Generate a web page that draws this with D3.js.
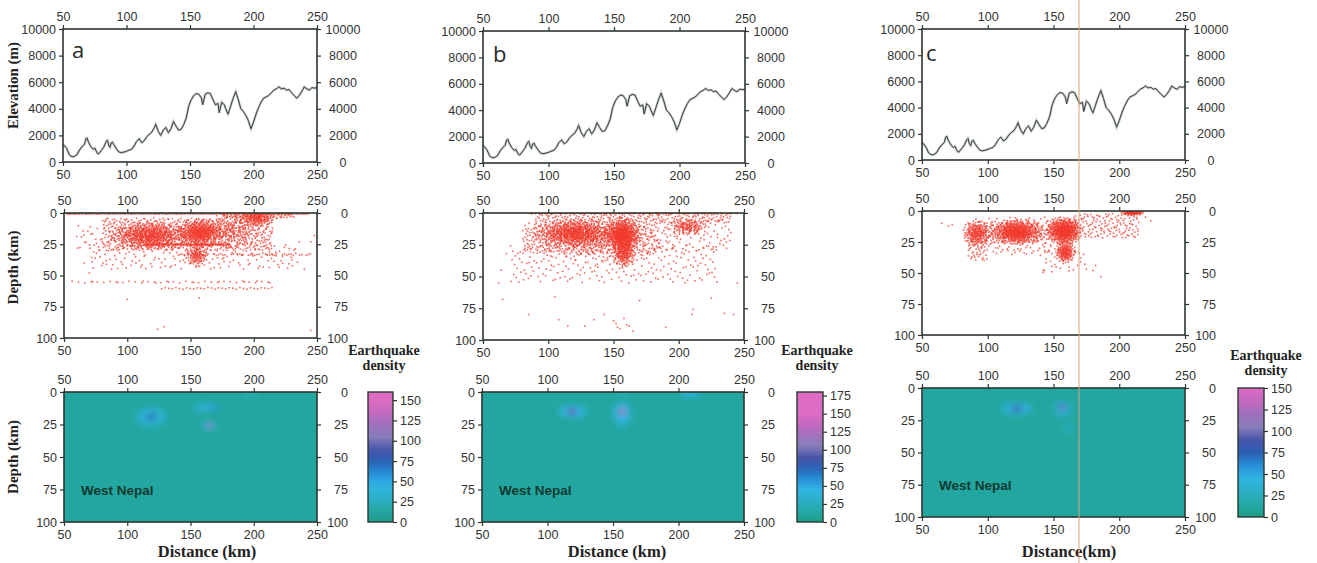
<!DOCTYPE html>
<html><head><meta charset="utf-8">
<script src="https://cdn.jsdelivr.net/npm/d3@7"></script>
<style>body{margin:0;background:#fff}svg{display:block}</style>
</head><body><svg id="chart" width="1317" height="563"></svg>
<script>
// ---------------- DATA ----------------
const panelLetters = ["a", "b", "c"];
const distTicks = [50, 100, 150, 200, 250];
const elevTicks = [0, 2000, 4000, 6000, 8000, 10000];
const depthTicks = [0, 25, 50, 75, 100];
const densityMax = [160, 180, 150];
const densityTicks = [
  [0, 25, 50, 75, 100, 125, 150],
  [0, 25, 50, 75, 100, 125, 150, 175],
  [0, 25, 50, 75, 100, 125, 150]
];
const distLabels = ["Distance (km)", "Distance (km)", "Distance(km)"];

// Topographic profile (km, m) — same profile in all three panels
const elevDist = [50,51,53,55,57,59,61,63,65,67,68,69,70,72,74,75,77,78,80,82,84,85,86,87,88,89,90,92,94,96,98,100,102,104,106,108,110,112,114,116,118,120,122,123,125,127,129,131,133,135,137,139,141,143,145,147,149,151,153,155,157,159,160,162,164,166,168,170,172,173,175,177,179,180,182,184,186,188,190,192,194,196,198,200,202,204,206,208,210,212,214,216,218,220,222,224,226,228,230,232,234,236,238,240,242,244,246,248,250];
const elevVal = [1350,1250,1000,550,400,420,550,900,1150,1350,1750,1800,1500,1150,950,1050,650,600,850,1100,1550,1650,1250,1100,1450,1500,1300,1000,750,700,750,800,900,950,1200,1550,1750,1450,1600,1900,2100,2250,2600,2850,2300,2000,2400,2600,2200,2500,3050,2700,2400,2450,2800,3300,4200,4700,5000,5150,5100,4800,4300,5100,5200,5150,4700,4300,4400,3700,4500,4300,3800,3600,4200,4800,5300,4700,4000,3800,3500,3100,2500,3000,3600,4100,4500,4800,4900,5000,5200,5400,5500,5650,5500,5550,5400,5450,5200,5000,4800,5000,5300,5650,5500,5400,5600,5550,5600];

// Earthquake hypocentres.
// Bands of evenly spread events: [distance from, distance to, depth from, depth to, number of events]
const quakeBandsA = [
  [52,245,0,0.8,320],[175,232,0,4,80],[113,181,24.5,26,120],[140,248,32.5,34,45],
  [55,215,54.5,56,42],[125,215,59.5,61,32],[60,80,10,30,20],[70,235,25,45,180],[80,215,4,30,650]
];
const quakeBandsB = [
  [85,245,0,0.6,160],[90,240,1,8,200],[70,230,25,55,230],[185,240,5,30,80],[80,185,8,32,380]
];
const quakeBandsC = [
  [165,215,2,22,150],[100,150,5,35,130],[140,175,30,50,35],[85,100,25,40,40],[84,168,8,26,150]
];
// Clusters: [centre distance, centre depth, spread km, spread depth km, number of events]
const quakeClustersA = [[118,18,14,5,600],[157,16,8,5,420],[202,4,7,3,160],[155,34,4,4,110],[180,14,12,6,200]];
const quakeClustersB = [[120,16,14,5,650],[157,17,6,6,550],[158,32,4,5,180],[207,11,7,3,130],[140,22,25,8,300]];
const quakeClustersC = [[92,18,5,5,220],[122,17,9,4.5,580],[158,16,6,5,540],[159,33,3.5,4,170],[210,1,4,1.2,120]];
// isolated events: [distance, depth]
const quakeSingleA = [[100,69],[124,93],[129,91],[245,94],[157,68],[240,45],[66,40],[70,48],[245,23],[248,18],[236,23]];
const quakeSingleB = [[65,68],[62,55],[85,80],[105,66],[108,84],[115,89],[128,89],[135,84],[143,80],[150,85],[152,87],[153,90],[155,91],[158,83],[160,88],[162,89],[165,93],[170,69],[190,90],[210,80],[211,76],[235,79],[225,67],[245,55],[242,80],[68,32],[64,45]];
const quakeSingleC = [[65,10],[70,12],[73,11],[180,48],[186,53],[143,48],[224,8],[220,5],[182,44]];

// Density hot spots: [distance, depth, density, half-width km, half-depth km]
const densityBlobsA = [[119,19,36,12,7],[119,19,75,3.5,2.5],[162,12,38,10,3],[167,12,55,4,2],[165,26,38,6,3],[165,26,120,3,1.5],[198,1,28,6,2]];
const densityBlobsB = [[119,15,42,11,5],[119,15,95,4,2.5],[157,17,42,7,9],[157,15,105,3,3],[157,1,28,5,2],[209,1,115,4,2],[209,1,42,8,3]];
const densityBlobsC = [[122,16,40,12,4.5],[122,16,85,5,2],[157,16,42,6,5.5],[157,15,95,3,2.5],[161,31,28,3,4]];
const densityBackground = 12;

// ---------------- LAYOUT ----------------
const layout = [
  {elev:[63,317,29,162], depth:[64,317,213,338], dens:[64,317,392,522], cb:[368,393,392,522], cbTitle:[384,355], dist:[207,557], letter:[72,58]},
  {elev:[483,745,31,163], depth:[483,744,213,340], dens:[482,744,392,522], cb:[797,823,392,522], cbTitle:[817,355], dist:[617,557], letter:[493,62]},
  {elev:[922,1185,29,160], depth:[922,1185,211,335], dens:[922,1185,388,517], cb:[1238,1264,388,517], cbTitle:[1266,360], dist:[1069,557], letter:[926,61]}
];
const bands = [quakeBandsA, quakeBandsB, quakeBandsC];
const clusters = [quakeClustersA, quakeClustersB, quakeClustersC];
const singles = [quakeSingleA, quakeSingleB, quakeSingleC];
const blobs = [densityBlobsA, densityBlobsB, densityBlobsC];

const svg = d3.select("#chart");
const defs = svg.append("defs");
const FRAME = "#2c382e", TXT = "#333", TICKFONT = "Liberation Sans, Arial, sans-serif", SERIF = "Liberation Serif, Times New Roman, serif";
const colorStops = ["#1d9c88","#25a8a6","#2ab0c8","#30b4e4","#2790d8","#2a5fb4","#4a55a8","#8a80bc","#a070bc","#c468c0","#de6cc4"];

defs.append("filter").attr("id","blur").attr("x","-50%").attr("y","-50%").attr("width","200%").attr("height","200%")
  .append("feGaussianBlur").attr("stdDeviation", 3);

// deterministic low-discrepancy sequence used to spread the counted events inside each area
function halton(i, b){ let f=1, r=0; while(i>0){ f/=b; r+=f*(i%b); i=Math.floor(i/b);} return r; }

function styleAxis(g){
  g.select(".domain").remove();
  g.selectAll(".tick line").attr("stroke", FRAME).attr("stroke-width", 1.2);
  g.selectAll(".tick text").attr("fill", TXT).attr("font-family", TICKFONT).attr("font-size", 12.5);
}

function frameAxes(x, y, box, yTicks, yFmt, rightMode){
  const [x0,x1,y0,y1] = box;
  const g = svg.append("g");
  g.append("g").attr("transform",`translate(0,${y0})`).call(d3.axisTop(x).tickValues(distTicks).tickSize(4).tickPadding(4).tickSizeOuter(0)).call(styleAxis);
  g.append("g").attr("transform",`translate(0,${y1})`).call(d3.axisBottom(x).tickValues(distTicks).tickSize(4).tickPadding(4).tickSizeOuter(0)).call(styleAxis);
  g.append("g").attr("transform",`translate(${x0},0)`).call(d3.axisLeft(y).tickValues(yTicks).tickFormat(yFmt).tickSize(4).tickPadding(3).tickSizeOuter(0)).call(styleAxis);
  const r = g.append("g").attr("transform",`translate(${x1},0)`).call(d3.axisRight(y).tickValues(yTicks).tickFormat(yFmt).tickSize(4).tickSizeOuter(0)).call(styleAxis);
  if(rightMode === "mid") r.selectAll(".tick text").attr("x", 26).attr("text-anchor","middle");
  else r.selectAll(".tick text").attr("x", 31).attr("text-anchor","end");
  g.append("rect").attr("x",x0).attr("y",y0).attr("width",x1-x0).attr("height",y1-y0)
    .attr("fill","none").attr("stroke",FRAME).attr("stroke-width",1.6);
}

let hIdx = 1;

layout.forEach((L, p) => {
  // ---- Elevation ----
  {
    const [x0,x1,y0,y1] = L.elev;
    const x = d3.scaleLinear().domain([50,250]).range([x0,x1]);
    const y = d3.scaleLinear().domain([0,10000]).range([y1,y0]);
    const line = d3.line().x((d,i)=>x(elevDist[i])).y(d=>y(d));
    svg.append("path").datum(elevVal).attr("d", line).attr("fill","none").attr("stroke","#a3b0a3").attr("stroke-width",2.4).attr("opacity",0.7);
    svg.append("path").datum(elevVal).attr("d", line).attr("fill","none").attr("stroke","#404040").attr("stroke-width",1);
    frameAxes(x, y, L.elev, elevTicks, d3.format("d"), "mid");
    if(p===0){
      svg.append("text").attr("transform",`translate(18,${(y0+y1)/2 - 10}) rotate(-90)`).attr("text-anchor","middle")
        .attr("font-family",SERIF).attr("font-weight","bold").attr("font-size",15).attr("fill","#222").text("Elevation (m)");
    }
    svg.append("text").attr("x",L.letter[0]).attr("y",L.letter[1]).attr("font-family","Open Sans, sans-serif")
      .attr("font-size",22).attr("fill","#2a2a2a").text(panelLetters[p]);
  }
  // ---- Depth scatter ----
  {
    const [x0,x1,y0,y1] = L.depth;
    const x = d3.scaleLinear().domain([50,250]).range([x0,x1]);
    const y = d3.scaleLinear().domain([0,100]).range([y0,y1]);
    const cid = "clipD"+p;
    defs.append("clipPath").attr("id",cid).append("rect").attr("x",x0).attr("y",y0).attr("width",x1-x0).attr("height",y1-y0);
    const pts = [];
    bands[p].forEach(c => {
      const [d0,d1,z0,z1,n] = c;
      for(let k=0;k<n;k++){ const h=hIdx++; pts.push([d0+(d1-d0)*halton(h,2), z0+(z1-z0)*halton(h,3)]); }
    });
    clusters[p].forEach(c => {
      const [cx,cz,sx,sz,n] = c;
      for(let k=0;k<n;k++){
        const h=hIdx++;
        const u = 0.06 + 0.94*halton(h,2), v = halton(h,3);
        const rr = Math.sqrt(-2*Math.log(u));
        pts.push([cx + sx*rr*Math.cos(2*Math.PI*v), cz + sz*rr*Math.sin(2*Math.PI*v)]);
      }
    });
    singles[p].forEach(s => pts.push(s));
    svg.append("g").attr("clip-path",`url(#${cid})`).selectAll("rect").data(pts.filter(d=>d[1]>=0)).join("rect")
      .attr("x", d=>x(d[0])-0.8).attr("y", d=>y(d[1])-0.8).attr("width",1.6).attr("height",1.6)
      .attr("fill","#f03a2c").attr("opacity",0.75);
    frameAxes(x, y, L.depth, depthTicks, d3.format("d"), "end");
    if(p===0){
      svg.append("text").attr("transform",`translate(18,${(y0+y1)/2 - 8}) rotate(-90)`).attr("text-anchor","middle")
        .attr("font-family",SERIF).attr("font-weight","bold").attr("font-size",15).attr("fill","#222").text("Depth (km)");
    }
  }
  // ---- Density ----
  {
    const [x0,x1,y0,y1] = L.dens;
    const x = d3.scaleLinear().domain([50,250]).range([x0,x1]);
    const y = d3.scaleLinear().domain([0,100]).range([y0,y1]);
    const max = densityMax[p];
    const color = d3.scaleLinear().domain(colorStops.map((c,i)=>i/(colorStops.length-1)*150)).range(colorStops).interpolate(d3.interpolateRgb).clamp(true);
    const cid = "clipH"+p;
    defs.append("clipPath").attr("id",cid).append("rect").attr("x",x0).attr("y",y0).attr("width",x1-x0).attr("height",y1-y0);
    const g = svg.append("g").attr("clip-path",`url(#${cid})`);
    g.append("rect").attr("x",x0).attr("y",y0).attr("width",x1-x0).attr("height",y1-y0).attr("fill",color(densityBackground));
    g.append("g").attr("filter","url(#blur)").selectAll("ellipse").data(blobs[p]).join("ellipse")
      .attr("cx",d=>x(d[0])).attr("cy",d=>y(d[1]))
      .attr("rx",d=>x(d[0]+d[3])-x(d[0])).attr("ry",d=>y(d[1]+d[4])-y(d[1]))
      .attr("fill",d=>color(d[2]));
    frameAxes(x, y, L.dens, depthTicks, d3.format("d"), "end");
    svg.append("text").attr("x",x0+17).attr("y",y1-27).attr("font-family",TICKFONT).attr("font-weight","bold")
      .attr("font-size",13.5).attr("fill","#0e3a30").text("West Nepal");
    if(p===0){
      svg.append("text").attr("transform",`translate(18,${(y0+y1)/2}) rotate(-90)`).attr("text-anchor","middle")
        .attr("font-family",SERIF).attr("font-weight","bold").attr("font-size",15).attr("fill","#222").text("Depth (km)");
    }
    svg.append("text").attr("x",L.dist[0]).attr("y",L.dist[1]).attr("text-anchor","middle")
      .attr("font-family",SERIF).attr("font-weight","bold").attr("font-size",16.5).attr("fill","#222").text(distLabels[p]);

    // colour bar
    const [c0,c1,cy0,cy1] = L.cb;
    const cs = d3.scaleLinear().domain([0,max]).range([cy1,cy0]);
    const gid = "grad"+p;
    const grad = defs.append("linearGradient").attr("id",gid).attr("x1",0).attr("y1",1).attr("x2",0).attr("y2",0);
    d3.range(0,21).forEach(i=>{ const v=i/20*max; grad.append("stop").attr("offset",i/20).attr("stop-color",color(v)); });
    svg.append("rect").attr("x",c0).attr("y",cy0).attr("width",c1-c0).attr("height",cy1-cy0)
      .attr("fill",`url(#${gid})`).attr("stroke",FRAME).attr("stroke-width",1.4);
    svg.append("g").attr("transform",`translate(${c1},0)`)
      .call(d3.axisRight(cs).tickValues(densityTicks[p]).tickSize(4).tickPadding(3).tickSizeOuter(0)).call(styleAxis);
    const t = svg.append("text").attr("text-anchor","middle").attr("font-family",SERIF).attr("font-weight","bold")
      .attr("font-size",14).attr("fill","#222");
    t.append("tspan").attr("x",L.cbTitle[0]).attr("y",L.cbTitle[1]).text("Earthquake");
    t.append("tspan").attr("x",L.cbTitle[0]).attr("y",L.cbTitle[1]+15).text("density");
  }
});

// scan artefact: thin orange vertical line in panel c
svg.append("line").attr("x1",1079).attr("x2",1079).attr("y1",0).attr("y2",563).attr("stroke","#d9a07a").attr("stroke-width",1);
</script>
</body></html>
